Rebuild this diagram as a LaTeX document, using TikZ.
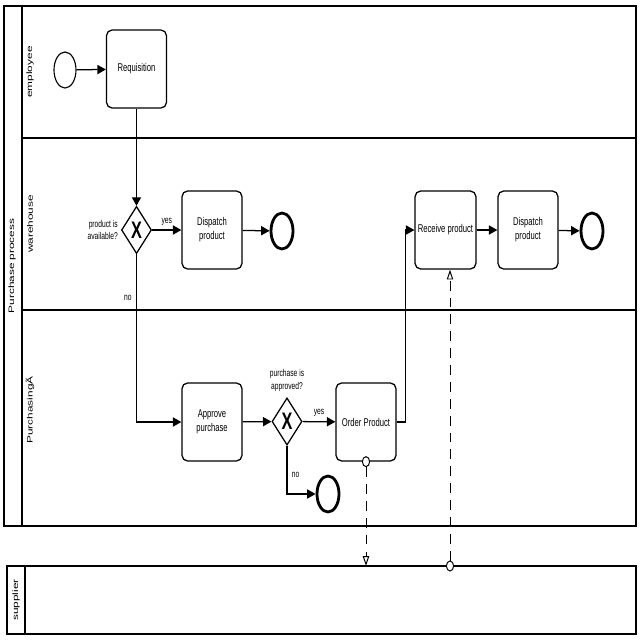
\documentclass[tikz,border=0pt]{standalone}
\usepackage{fontspec}
\setmainfont{Liberation Sans}[FakeStretch=0.68]
\newfontfamily\lanefont{Liberation Sans}[FakeStretch=1.5]
\usetikzlibrary{shapes.geometric, arrows.meta, positioning}

\begin{document}
\begin{tikzpicture}[x=0.025cm, y=-0.025cm, font=\fontsize{8}{10}\selectfont,
  poolline/.style={line width=1.1pt},
  lanelbl/.style={rotate=90, font=\lanefont\fontsize{5.6}{7}\selectfont, inner sep=0pt},
  task/.style={draw, rectangle, rounded corners=4pt, line width=0.9pt, minimum width=1.5cm, minimum height=1.95cm, align=center, inner sep=2pt},
  gateway/.style={draw, diamond, line width=0.9pt, inner sep=0pt, minimum width=0.75cm, minimum height=1.18cm,
    label={center:\fontsize{17}{17}\selectfont\bfseries X}},
  startev/.style={draw, ellipse, line width=0.8pt, inner sep=0pt, minimum width=0.55cm, minimum height=0.9cm},
  endev/.style={draw, ellipse, line width=2pt, inner sep=0pt, minimum width=0.55cm, minimum height=0.9cm},
  msgdot/.style={draw, ellipse, fill=white, line width=0.7pt, inner sep=0pt, minimum width=0.18cm, minimum height=0.25cm},
  flow/.style={line width=0.9pt, -{Triangle[length=6pt, width=6.5pt]}},
  msgflow/.style={line width=0.7pt, dash pattern=on 7pt off 5pt, -{Triangle[open, length=7pt, width=4.5pt]}},
  note/.style={font=\fontsize{7}{9}\selectfont, inner sep=1pt}]
  \useasboundingbox (0,0) rectangle (640,640);

  % Pool: Purchase process
  \draw[poolline] (4,6) rectangle (636,526);
  \draw[poolline] (22,6) -- (22,526);
  \draw[poolline] (22,138) -- (636,138);
  \draw[poolline] (22,310) -- (636,310);
  \node[lanelbl] (poolname) at (12,266) {Purchase process};
  \node[lanelbl] (laneemp) at (30,72) {employee};
  \node[lanelbl] (lanewh) at (30,224) {warehouse};
  \node[lanelbl] (lanepur) at (30,410) {PurchasingÃ};

  % Pool: supplier
  \draw[poolline] (7,566) rectangle (636,634);
  \draw[poolline] (25,566) -- (25,634);
  \node[lanelbl] (poolsup) at (16,600) {supplier};
  \coordinate (suptop) at (0,566);

  % Lane employee
  \node[startev] (start) at (65,70) {};
  \node[task] (req) at (136.5,69) {Requisition};

  % Lane warehouse
  \node[gateway] (gwavail) at (136.5,230) {};
  \node[note, align=right, left=1pt of gwavail] (qavail) {product is\\available?};
  \node[task] (dispA) at (212,230) {Dispatch\\product};
  \node[endev] (endA) at (282,231) {};
  \node[task] (receive) at (445.5,230) {Receive product};
  \node[task] (dispB) at (528,230) {Dispatch\\product};
  \node[endev] (endB) at (592,231) {};

  % Lane Purchasing
  \node[task] (approve) at (212,422) {Approve\\purchase};
  \node[gateway] (gwappr) at (287,421.5) {};
  \node[note, align=center, above=3pt of gwappr] (qappr) {purchase is\\approved?};
  \node[task] (order) at (366,422) {Order Product};
  \node[endev] (endC) at (328,494) {};

  % Message points
  \node[msgdot] (ordmsg) at (order.south) {};
  \node[msgdot] (supmsg) at (450,566) {};

  % Sequence flows
  \draw[flow] (start) -- (req);
  \draw[flow] (req) -- (gwavail);
  \draw[flow] (gwavail) -- node[note, above=2pt] {yes} (dispA);
  \draw[flow] (dispA) -- (endA);
  \draw[flow] (gwavail.south) |- node[note, pos=0.13, left=2pt] {no} (approve.west);
  \draw[flow] (approve) -- (gwappr);
  \draw[flow] (gwappr) -- node[note, above=2pt] {yes} (order);
  \draw[flow] (gwappr.south) |- node[note, pos=0.3, right=2pt] {no} (endC.west);
  \draw[flow] (order.east) -- ++(9,0) |- (receive.west);
  \draw[flow] (receive) -- (dispB);
  \draw[flow] (dispB) -- (endB);

  % Message flows
  \draw[msgflow] (ordmsg.south) -- (ordmsg.south |- suptop);
  \draw[msgflow] (supmsg.north) -- (supmsg.north |- receive.south);
\end{tikzpicture}
\end{document}
